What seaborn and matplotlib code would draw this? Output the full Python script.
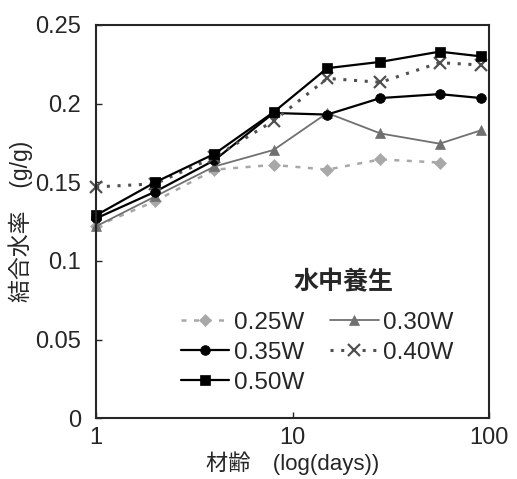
import seaborn as sns
import matplotlib.pyplot as plt
import numpy as np
import pandas as pd

# 材齢 (days)
days = [1, 2, 4, 8, 15, 28, 56, 91]
w025 = [0.122, 0.138, 0.158, 0.161, 0.158, 0.1645, 0.1625, np.nan]
w030 = [0.122, 0.141, 0.160, 0.1705, 0.194, 0.181, 0.1745, 0.183]
w035 = [0.127, 0.144, 0.164, 0.194, 0.193, 0.2035, 0.206, 0.2035]
w040 = [0.147, 0.149, 0.166, 0.189, 0.216, 0.2135, 0.226, 0.2245]
w050 = [0.129, 0.150, 0.168, 0.1945, 0.2225, 0.2265, 0.233, 0.230]
labels = ["0.25W", "0.30W", "0.35W", "0.40W", "0.50W"]

sns.set_style("ticks")
plt.rcParams["font.family"] = ["Liberation Sans", "Noto Sans CJK JP"]

fig = plt.figure(figsize=(5.17, 4.79), dpi=100)
ax = fig.add_axes([0.186, 0.127, 0.760, 0.821])

styles = {
    "0.25W": dict(color="#a8a8a8", marker="D", ls=(0, (2, 3)), lw=1.8, ms=6),
    "0.30W": dict(color="#707070", marker="^", ls="-", lw=1.3, ms=7),
    "0.35W": dict(color="black", marker="o", ls="-", lw=1.6, ms=7),
    "0.40W": dict(color="#505050", marker="x", ls=(0, (1, 2.5)), lw=2.2, ms=8, mew=1.6),
    "0.50W": dict(color="black", marker="s", ls="-", lw=1.6, ms=7),
}

series = dict(zip(labels, [w025, w030, w035, w040, w050]))
handles = {}
for name in labels:
    df = pd.DataFrame({"days": days, "val": series[name]}).dropna()
    st = styles[name]
    sns.lineplot(data=df, x="days", y="val", ax=ax, color=st["color"],
                 marker=st["marker"], linestyle=st["ls"], linewidth=st["lw"],
                 markersize=st["ms"], markeredgewidth=st.get("mew", 0.5),
                 markeredgecolor=st["color"], label=name, clip_on=False)
    handles[name] = ax.get_lines()[-1]

ax.set_xscale("log")
ax.set_xlim(1, 100)
ax.set_ylim(0, 0.25)
ax.set_xticks([1, 10, 100])
ax.set_xticklabels(["1", "10", "100"])
ax.xaxis.set_minor_locator(plt.NullLocator())
ax.set_yticks([0, 0.05, 0.1, 0.15, 0.2, 0.25])
ax.set_yticklabels(["0", "0.05", "0.1", "0.15", "0.2", "0.25"])
ax.tick_params(direction="in", length=4, width=1, labelsize=17)
ax.tick_params(axis="x", pad=6)
ax.tick_params(axis="y", pad=11)
for s in ax.spines.values():
    s.set_linewidth(1.5)

ax.set_xlabel("材齢\u3000(log(days))", fontsize=16)
ax.set_ylabel("結合水率\u3000(g/g)", fontsize=16.5)
ax.xaxis.set_label_coords(0.5, -0.085)
ax.yaxis.set_label_coords(-0.16, 0.5)

# legend title drawn as text so it can sit off-centre like the original
ax.text(0.629, 0.346, "水中養生", transform=ax.transAxes, fontsize=18,
        fontweight="bold", ha="center", va="center")

order = ["0.25W", "0.35W", "0.50W", "0.30W", "0.40W"]
leg = ax.legend([handles[k] for k in order], order, ncol=2,
                frameon=False, fontsize=17.5,
                loc="upper left", bbox_to_anchor=(0.19, 0.295),
                borderaxespad=0, handlelength=2.0, handletextpad=0.2,
                columnspacing=1.05, labelspacing=0.33)

fig.savefig("out.png", dpi=100)
